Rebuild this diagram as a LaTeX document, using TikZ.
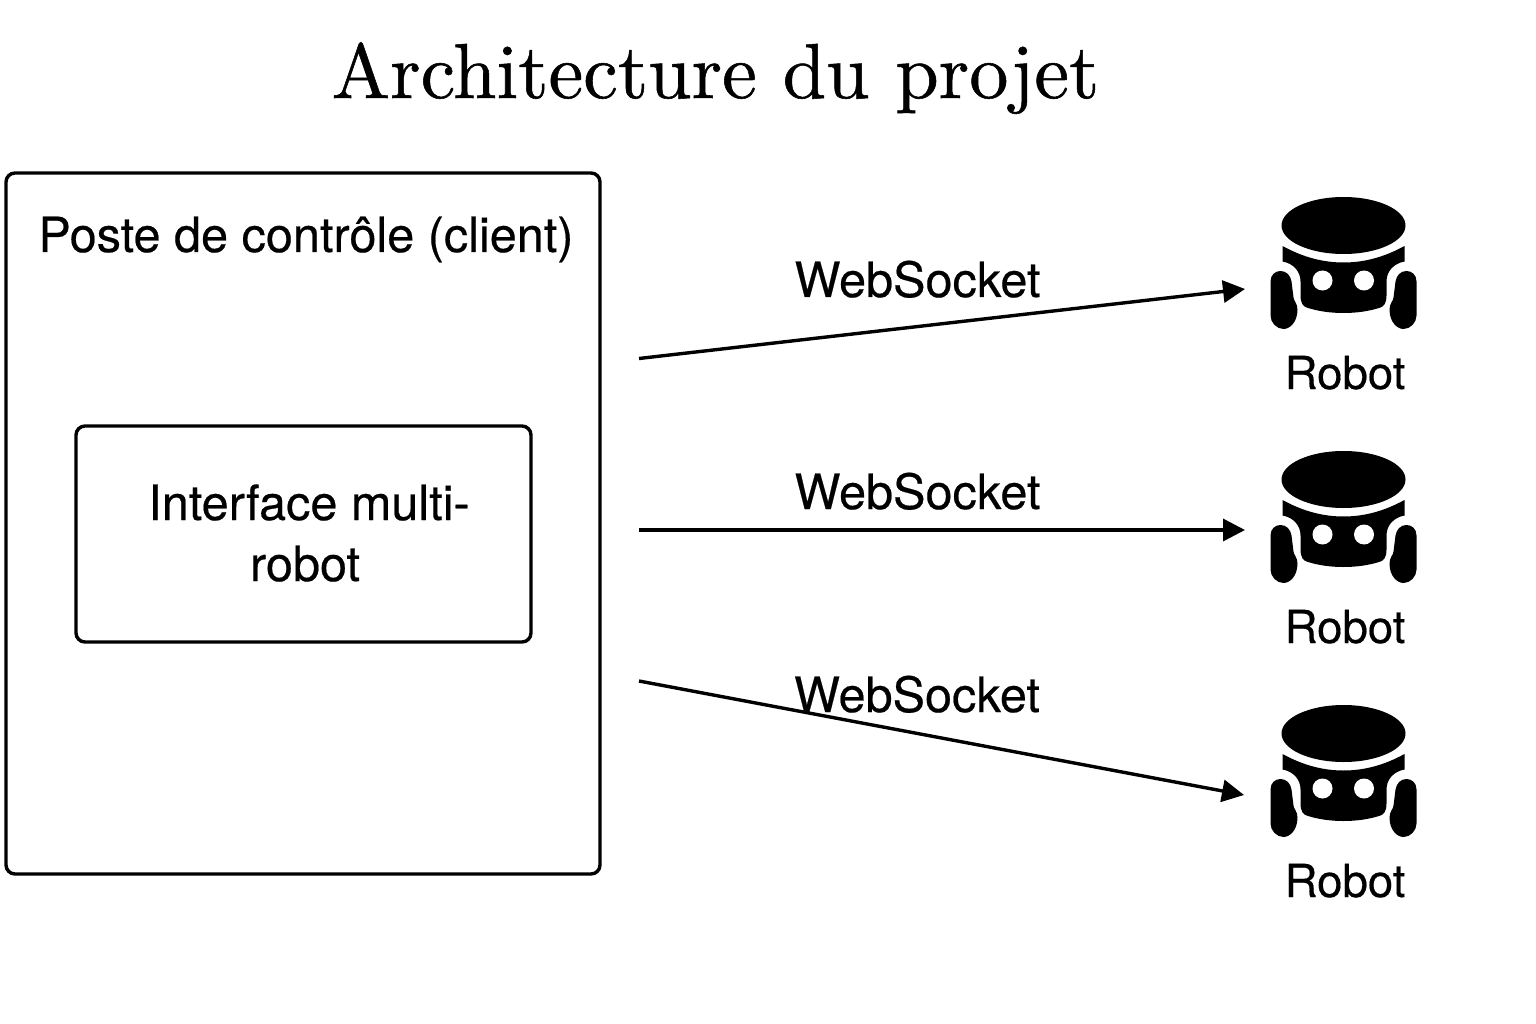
\documentclass[tikz,border=0pt]{standalone}
\usepackage{fontspec}
\setsansfont{TeX Gyre Heros}[FakeBold=0.4]
\newfontfamily\titlefont{lmroman10-regular}[Extension=.otf,FakeBold=0.7]
\usetikzlibrary{arrows.meta}
\tikzset{
  box/.style={draw=black,line width=3.4pt,rounded corners=9pt,fill=none},
  link/.style={draw=black,line width=3.4pt,-{Triangle[length=22pt,width=22pt]}},
  lab/.style={font=\sffamily\fontsize{48.6}{60}\selectfont,inner sep=0pt,anchor=base,text=black},
  roblab/.style={font=\sffamily\fontsize{45.6}{54}\selectfont,inner sep=0pt,anchor=base,text=black},
  pics/robotglyph/.style={code={
    \fill[black] (0,0) ellipse [x radius=62pt,y radius=28.5pt];
    \fill[black] (-61,20.5) .. controls (-40,32) and (-20,37) .. (0,37)
        .. controls (20,37) and (40,32) .. (61,20.5) -- (61,36)
        .. controls (50,38) and (43,46) .. (43,56) -- (43,70)
        .. controls (43,78) and (40,81) .. (37,82)
        .. controls (25,86) and (12,87.5) .. (0,87.5)
        .. controls (-12,87.5) and (-25,86) .. (-37,82)
        .. controls (-40,81) and (-43,78) .. (-43,70) -- (-43,56)
        .. controls (-43,46) and (-50,38) .. (-61,36) -- cycle;
    \fill[white] (-21,55) circle [radius=10pt] (20.5,55) circle [radius=10pt];
    \fill[black] (-73,56) .. controls (-73,49) and (-68,45.5) .. (-63,45.5)
        .. controls (-57,45.5) and (-53,50) .. (-52,56) -- (-50,72)
        .. controls (-50,75) and (-46,78) .. (-46,84)
        .. controls (-46,97) and (-54,103.5) .. (-60,103.5)
        .. controls (-67,103.5) and (-73,97) .. (-73,90) -- cycle;
    \fill[black] (73,56) .. controls (73,49) and (68,45.5) .. (63,45.5)
        .. controls (57,45.5) and (53,50) .. (52,56) -- (50,72)
        .. controls (50,75) and (46,78) .. (46,84)
        .. controls (46,97) and (54,103.5) .. (60,103.5)
        .. controls (67,103.5) and (73,97) .. (73,90) -- cycle;
  }}
}
\begin{document}
\begin{tikzpicture}[x=1pt,y=-1pt]
\useasboundingbox (0,0) rectangle (1536,1024);
\fill[white] (0,0) rectangle (1536,1024);
\node[inner sep=0pt,anchor=base,font=\titlefont\fontsize{78}{90}\selectfont] (title) at (715.5,98) {Architecture du projet};
\draw[box] (6,173) rectangle (600,874);
\node[lab] (client) at (306,252) {Poste de contrôle (client)};
\draw[box] (76,426) rectangle (531,642);
\node[lab] (iface1) at (309,520) {Interface multi-};
\node[lab] (iface2) at (305,581) {robot};
\pic at (1343.5,225.5) {robotglyph};
\pic at (1343.5,479.5) {robotglyph};
\pic at (1343.5,733.5) {robotglyph};
\node[roblab] (r1) at (1345,389) {Robot};
\node[roblab] (r2) at (1345,643) {Robot};
\node[roblab] (r3) at (1345,897) {Robot};
\coordinate (s1) at (639,358.5);
\coordinate (s2) at (639,530);
\coordinate (s3) at (639,681);
\coordinate (e1) at (1245,289);
\coordinate (e2) at (1245,530);
\coordinate (e3) at (1244,795);
\draw[link] (s1) -- (e1);
\draw[link] (s2) -- (e2);
\draw[link] (s3) -- (e3);
\node[lab] (w1) at (917.5,297) {WebSocket};
\node[lab] (w2) at (917.5,509) {WebSocket};
\node[lab] (w3) at (917,712) {WebSocket};
\end{tikzpicture}
\end{document}
